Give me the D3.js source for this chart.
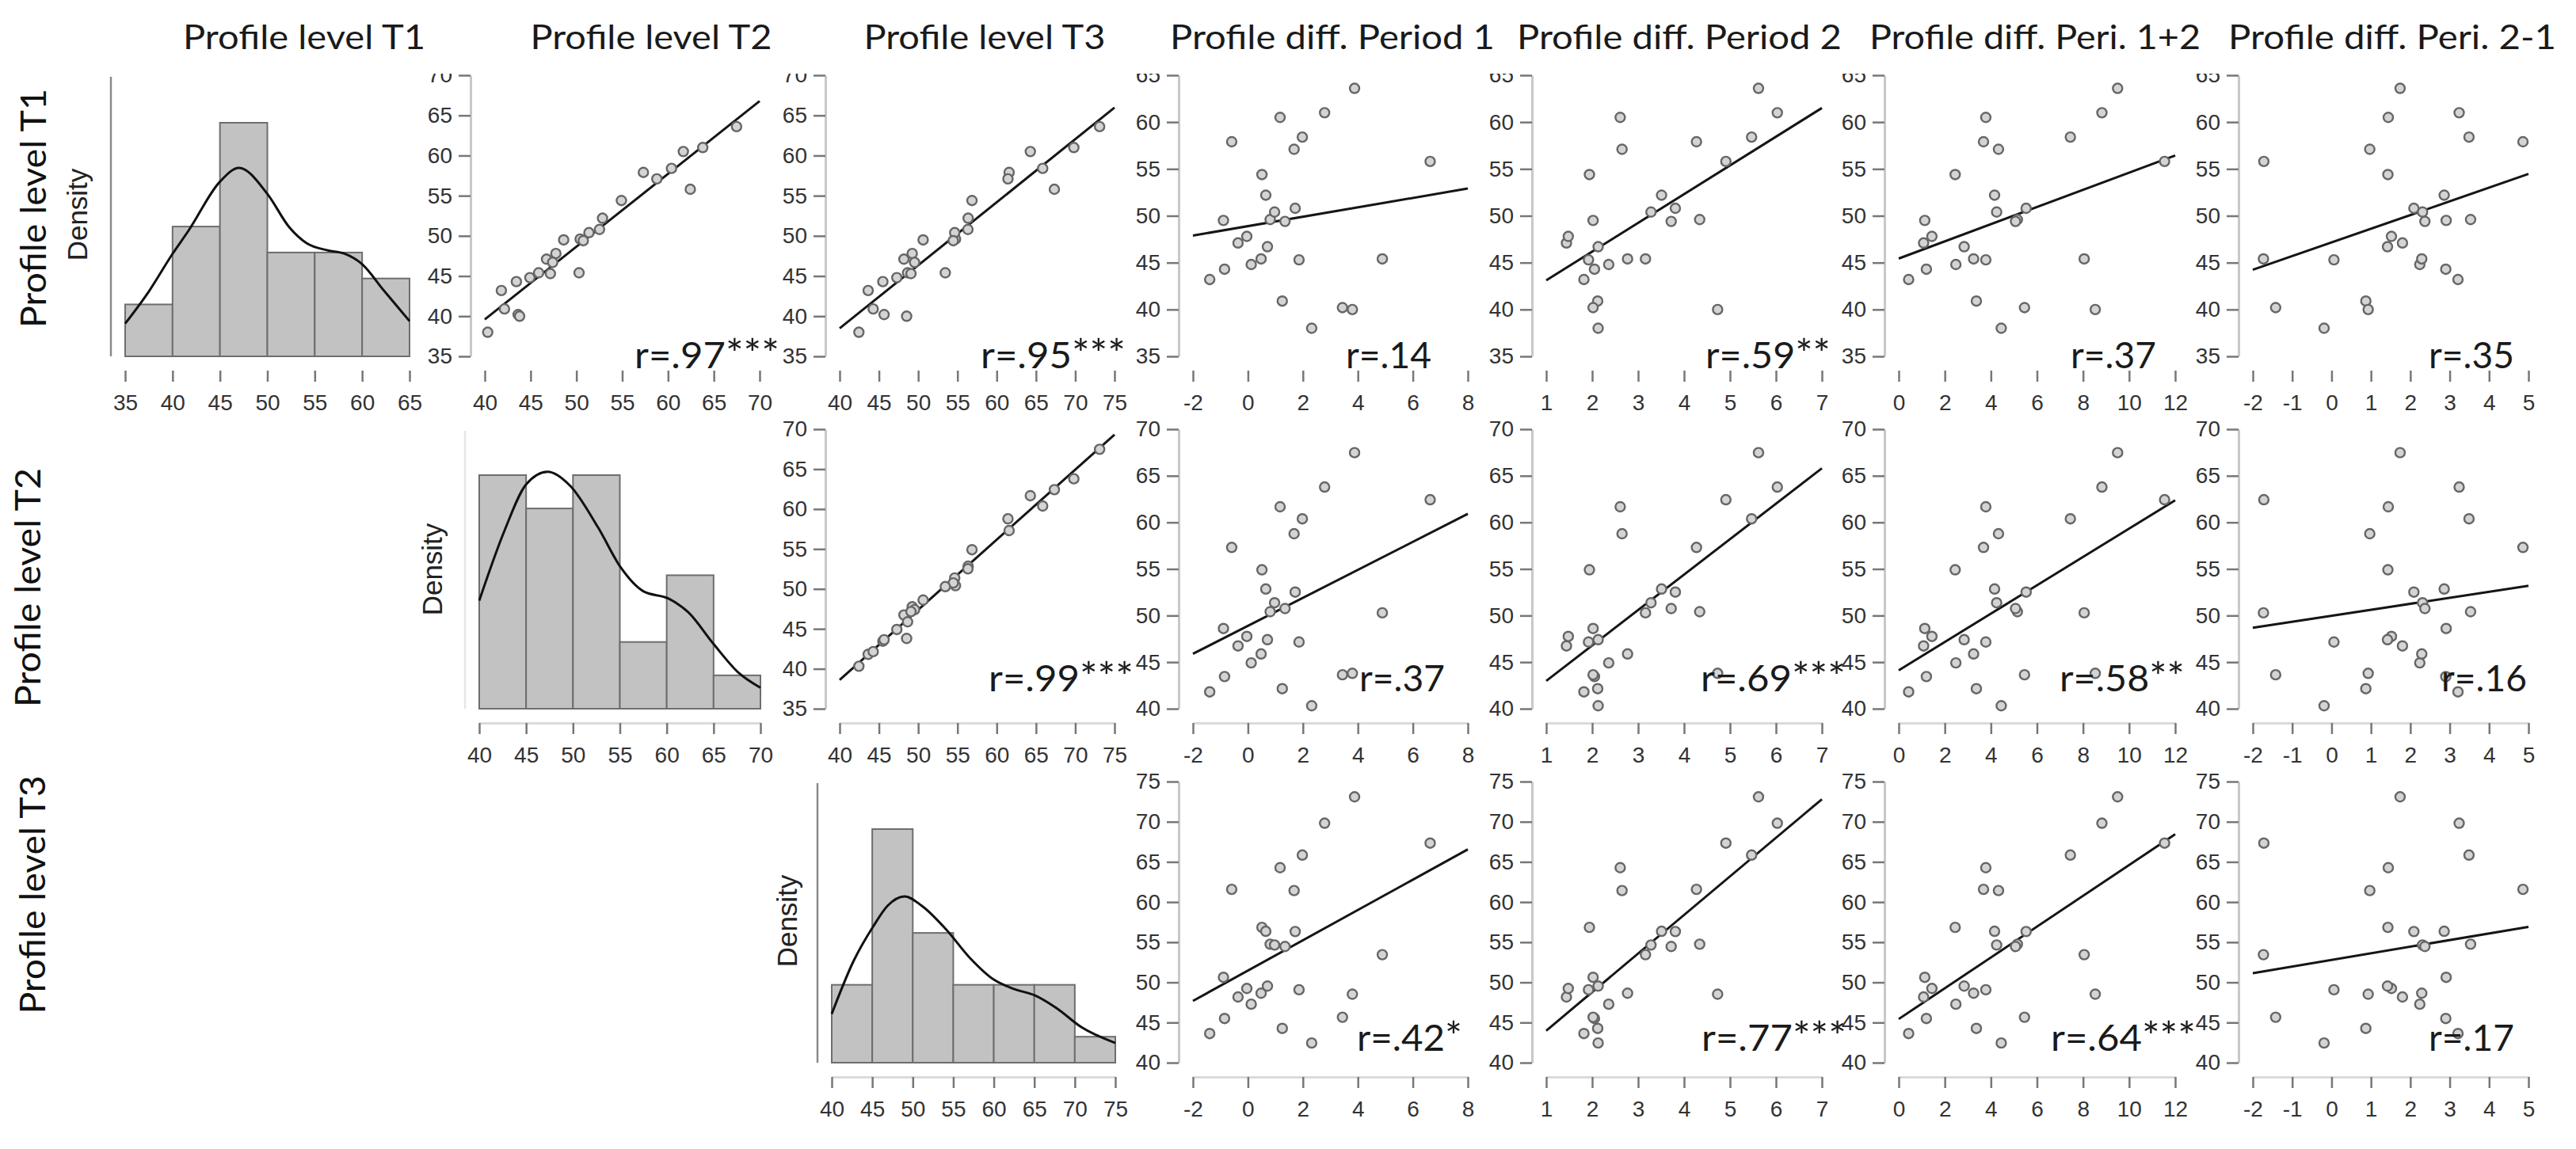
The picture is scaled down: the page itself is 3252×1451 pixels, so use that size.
<!DOCTYPE html>
<html>
<head>
<meta charset="utf-8">
<script src="https://cdn.jsdelivr.net/npm/d3@7"></script>
<style>
body { margin: 0; background: #fff; }
svg { display: block; }
</style>
</head>
<body>
<div id="chart"></div>
<script>
/*
    DATA  (27 subjects)
*/
let t1  = [43.2, 44.3, 49.5, 57.9, 47.1, 47.8, 44.8, 45.4, 54.4, 52.2, 46.7, 49.6, 50.4, 60.5, 40.9, 49.4, 50.8, 57.1, 58.4, 45.3, 38.0, 61.0, 40.2, 40.0, 63.6, 45.4, 55.8];
let t2  = [41.81, 43.45, 48.61, 57.31, 46.74, 47.76, 44.92, 45.88, 54.91, 52.85, 47.41, 50.41, 51.37, 61.67, 42.15, 50.75, 52.52, 58.78, 60.38, 47.16, 40.32, 63.79, 43.64, 43.80, 67.48, 50.29, 62.43];
let t3  = [43.63, 45.50, 50.63, 61.58, 48.18, 49.24, 47.28, 48.65, 56.85, 56.36, 49.54, 54.75, 54.65, 64.28, 44.27, 54.47, 56.33, 61.43, 65.85, 49.08, 42.45, 69.82, 45.66, 48.53, 73.10, 53.45, 67.34];
let d1  = [-1.39, -0.85, -0.89, -0.59, -0.36, -0.04, 0.12, 0.48, 0.51, 0.65, 0.71, 0.81, 0.97, 1.17, 1.25, 1.35, 1.72, 1.68, 1.98, 1.86, 2.32, 2.79, 3.44, 3.80, 3.88, 4.89, 6.63];
let d2  = [1.82, 2.05, 2.02, 4.27, 1.44, 1.48, 2.36, 2.77, 1.94, 3.51, 2.13, 4.34, 3.28, 2.61, 2.12, 3.72, 3.81, 2.65, 5.47, 1.92, 2.13, 6.03, 2.02, 4.73, 5.62, 3.16, 4.91];
let d12 = [0.43, 1.20, 1.13, 3.68, 1.08, 1.44, 2.48, 3.25, 2.45, 4.16, 2.84, 5.15, 4.25, 3.78, 3.37, 5.07, 5.53, 4.33, 7.45, 3.78, 4.45, 8.82, 5.46, 8.53, 9.50, 8.05, 11.54];
let d21 = [3.21, 2.90, 2.91, 4.86, 1.80, 1.52, 2.24, 2.29, 1.43, 2.86, 1.42, 3.53, 2.31, 1.44, 0.87, 2.37, 2.09, 0.97, 3.49, 0.06, -0.19, 3.24, -1.42, 0.93, 1.74, -1.73, -1.72];

let colTitles = ["Profile level T1", "Profile level T2", "Profile level T3", "Profile diff. Period 1", "Profile diff. Period 2", "Profile diff. Peri. 1+2", "Profile diff. Peri. 2-1"];
let rowTitles = ["Profile level T1", "Profile level T2", "Profile level T3"];

// histogram bins (edges) and counts
let histEdgesT1 = [35, 40, 45, 50, 55, 60, 65];
let histCountsT1 = [2, 5, 9, 4, 4, 3];
let histEdgesT2 = [40, 45, 50, 55, 60, 65, 70];
let histCountsT2 = [7, 6, 7, 2, 4, 1];
let histEdgesT3 = [40, 45, 50, 55, 60, 65, 70, 75];
let histCountsT3 = [3, 9, 5, 3, 3, 3, 1];

// density curves (in count units)
let densXT1 = [35, 37.5, 40, 41.7, 45, 47, 50, 52.3, 54.1, 56.4, 58.1, 60, 62.3, 65];
let densYT1 = [1.26, 2.5, 3.95, 4.85, 6.73, 7.26, 6.26, 4.98, 4.37, 4.08, 3.96, 3.55, 2.53, 1.36];
let densXT2 = [40, 42.7, 45, 47.3, 49.7, 52.7, 55.1, 57.5, 60.2, 62.3, 65, 67.7, 70];
let densYT2 = [3.24, 5.34, 6.72, 7.10, 6.68, 5.42, 4.23, 3.52, 3.30, 2.89, 1.94, 1.07, 0.63];
let densXT3 = [40, 42.7, 45.1, 46.9, 49, 51.1, 54.1, 57.1, 60, 62.4, 65.1, 67.8, 70.8, 75];
let densYT3 = [1.88, 3.92, 5.24, 6.05, 6.41, 6.05, 5.14, 4.02, 3.2, 2.85, 2.59, 2.09, 1.37, 0.76];

// tick labels
let ticksT1 = [35, 40, 45, 50, 55, 60, 65];
let ticksT2 = [40, 45, 50, 55, 60, 65, 70];
let ticksT3 = [40, 45, 50, 55, 60, 65, 70, 75];
let ticksD1 = [-2, 0, 2, 4, 6, 8];
let ticksD2 = [1, 2, 3, 4, 5, 6, 7];
let ticksD12 = [0, 2, 4, 6, 8, 10, 12];
let ticksD21 = [-2, -1, 0, 1, 2, 3, 4, 5];
let yTicksLevelRow1 = [35, 40, 45, 50, 55, 60, 65, 70];
let yTicksDiffRow1 = [35, 40, 45, 50, 55, 60, 65];
let yTicksLevelRow2 = [35, 40, 45, 50, 55, 60, 65, 70];
let yTicksDiffRow2 = [40, 45, 50, 55, 60, 65, 70];
let yTicksDiffRow3 = [40, 45, 50, 55, 60, 65, 70, 75];

// correlation labels, [row][col]
let rLabels = [
    [null, "r=.97***", "r=.95***", "r=.14", "r=.59**", "r=.37", "r=.35"],
    [null, null, "r=.99***", "r=.37", "r=.69***", "r=.58**", "r=.16"],
    [null, null, null, "r=.42*", "r=.77***", "r=.64***", "r=.17"]
];

/*
    LAYOUT
*/
let SIZE = { width: 3252, height: 1451 };
let COL_X = [[158, 517], [612, 959], [1060, 1407], [1506, 1853], [1952, 2300], [2397, 2746], [2844, 3192]];
let HIST_X = [[158, 517], [605, 960], [1050, 1408]];
let ROWS = [{ top: 95, bot: 450 }, { top: 542, bot: 895 }, { top: 987, bot: 1342 }];
let HIST_H = 295;
let AXIS_GAP = 18;
let TITLE_POS = [[384, 306], [822, 305], [1243, 305], [1682, 410], [2120, 410], [2569, 418], [3020, 414]];
let ROW_LABEL_POS = [[58, 263, 302], [51, 742, 302], [57, 1130, 301]];
let DENSITY_LABEL_POS = [[110, 271], [558, 719], [1006, 1163]];
let R_LABEL_RIGHT = [
    [0, 984, 1421, 1807, 2311, 2722, 3174],
    [0, 0, 1431, 1824, 2330, 2758, 3190],
    [0, 0, 0, 1846, 2331, 2772, 3174]
];
let R_LABEL_BASE = [465, 873, 1327];

let TICK_FONT = "'Liberation Sans', Arial, sans-serif";
let TEXT_FONT = "Lato, 'Open Sans', sans-serif";

let values = { t1: t1, t2: t2, t3: t3, d1: d1, d2: d2, d12: d12, d21: d21 };
let rowVars = ["t1", "t2", "t3"];
let colVars = ["t1", "t2", "t3", "d1", "d2", "d12", "d21"];
let xTicks = { t1: ticksT1, t2: ticksT2, t3: ticksT3, d1: ticksD1, d2: ticksD2, d12: ticksD12, d21: ticksD21 };
let hists = [
    { edges: histEdgesT1, counts: histCountsT1, dx: densXT1, dy: densYT1 },
    { edges: histEdgesT2, counts: histCountsT2, dx: densXT2, dy: densYT2 },
    { edges: histEdgesT3, counts: histCountsT3, dx: densXT3, dy: densYT3 }
];

function yTicksFor(r, c) {
    if (r === 0) return c <= 2 ? yTicksLevelRow1 : yTicksDiffRow1;
    if (r === 1) return c === 2 ? yTicksLevelRow2 : yTicksDiffRow2;
    return yTicksDiffRow3;
}

/*
    DRAW
*/
var svg = d3.select("#chart")
    .append("svg")
    .attr("width", SIZE.width)
    .attr("height", SIZE.height)
    .style("background", "#fff");

// top of the first row is cut, like in the source picture
svg.append("clipPath")
    .attr("id", "row1clip")
    .append("rect")
    .attr("x", -SIZE.width).attr("y", 93)
    .attr("width", SIZE.width * 2).attr("height", SIZE.height);

function styleAxis(a, domainColor) {
    a.select(".domain").attr("stroke", domainColor).attr("stroke-width", 3);
    a.selectAll(".tick line").attr("stroke", "#777").attr("stroke-width", 2.5);
    a.selectAll(".tick text")
        .attr("fill", "#333")
        .style("font-family", TICK_FONT)
        .style("font-size", "28px");
}

function drawXAxis(g, x, ticks, r) {
    var xa = g.append("g")
        .attr("transform", `translate(0, ${ROWS[r].bot + AXIS_GAP})`)
        .call(d3.axisBottom(x).tickValues(ticks).tickFormat(d => String(d))
            .tickSize(14).tickSizeOuter(0).tickPadding(16));
    styleAxis(xa, r === 0 ? "none" : "#d8dcdc");
}

function drawHist(r) {
    var h = hists[r];
    var g = svg.append("g");
    var x = d3.scaleLinear([h.edges[0], h.edges[h.edges.length - 1]], HIST_X[r]);
    var y = d3.scaleLinear([0, d3.max(h.counts)], [ROWS[r].bot, ROWS[r].bot - HIST_H]);

    g.append("line")
        .attr("x1", HIST_X[r][0] - AXIS_GAP).attr("x2", HIST_X[r][0] - AXIS_GAP)
        .attr("y1", ROWS[r].top + 2).attr("y2", ROWS[r].bot)
        .attr("stroke", r === 1 ? "#e6e6e6" : "#8a8a8a")
        .attr("stroke-width", 2.5);

    g.selectAll("rect")
        .data(h.counts)
        .join("rect")
        .attr("x", (d, i) => x(h.edges[i]))
        .attr("width", (d, i) => x(h.edges[i + 1]) - x(h.edges[i]))
        .attr("y", d => y(d))
        .attr("height", d => y(0) - y(d))
        .attr("fill", "#c2c2c2")
        .attr("stroke", "#6e6e6e")
        .attr("stroke-width", 2);

    var curve = d3.line()
        .x((d, i) => x(h.dx[i]))
        .y(d => y(d))
        .curve(d3.curveMonotoneX);
    g.append("path")
        .attr("d", curve(h.dy))
        .attr("fill", "none")
        .attr("stroke", "#111")
        .attr("stroke-width", 3);

    drawXAxis(g, x, h.edges, r);

    g.append("text")
        .attr("transform", `translate(${DENSITY_LABEL_POS[r][0]}, ${DENSITY_LABEL_POS[r][1]}) rotate(-90)`)
        .attr("text-anchor", "middle")
        .style("font-family", TICK_FONT)
        .style("font-size", "35px")
        .attr("fill", "#222")
        .text("Density");
}

function fitLine(xs, ys) {
    var mx = d3.mean(xs), my = d3.mean(ys);
    var sxy = d3.sum(xs, (v, i) => (v - mx) * (ys[i] - my));
    var sxx = d3.sum(xs, v => (v - mx) * (v - mx));
    var b = sxy / sxx;
    return { a: my - b * mx, b: b };
}

function drawScatter(r, c) {
    var xv = colVars[c], yv = rowVars[r];
    var xt = xTicks[xv], yt = yTicksFor(r, c);
    var x = d3.scaleLinear([d3.min(xt), d3.max(xt)], COL_X[c]);
    var y = d3.scaleLinear([d3.min(yt), d3.max(yt)], [ROWS[r].bot, ROWS[r].top]);
    var g = svg.append("g");

    var ya = g.append("g")
        .attr("transform", `translate(${COL_X[c][0] - AXIS_GAP}, 0)`)
        .call(d3.axisLeft(y).tickValues(yt).tickFormat(d => String(d))
            .tickSize(15).tickSizeOuter(0).tickPadding(8));
    styleAxis(ya, "#c8c8c8");
    if (r === 0) ya.attr("clip-path", "url(#row1clip)");

    drawXAxis(g, x, xt, r);

    var xs = values[xv], ys = values[yv];
    var fit = fitLine(xs, ys);
    var ends = d3.extent(xt);
    g.append("path")
        .attr("d", d3.line()(ends.map(v => [x(v), y(fit.a + fit.b * v)])))
        .attr("stroke", "#151515")
        .attr("stroke-width", 3);

    g.selectAll("circle")
        .data(xs)
        .join("circle")
        .attr("cx", d => x(d))
        .attr("cy", (d, i) => y(ys[i]))
        .attr("r", 6)
        .attr("fill", "#d4d4d4")
        .attr("stroke", "#666")
        .attr("stroke-width", 2.4);

    // r value, with the stars set a bit larger as in the source
    var label = rLabels[r][c];
    var base = label.replace(/\*/g, "");
    var stars = label.length - base.length;
    var txt = g.append("text")
        .attr("x", R_LABEL_RIGHT[r][c])
        .attr("y", R_LABEL_BASE[r])
        .attr("text-anchor", "end")
        .attr("textLength", 108 + 25 * stars)
        .attr("lengthAdjust", "spacingAndGlyphs")
        .style("font-family", TEXT_FONT)
        .style("font-size", "46px")
        .attr("fill", "#1a1a1a");
    txt.append("tspan").text(base);
    if (stars > 0) {
        txt.append("tspan")
            .style("font-size", "50px")
            .text("*".repeat(stars));
    }
}

rowVars.forEach((rv, r) => {
    colVars.forEach((cv, c) => {
        if (c < r) return;
        if (c === r) drawHist(r);
        else drawScatter(r, c);
    });
});

// column titles
svg.selectAll(".colTitle")
    .data(colTitles)
    .join("text")
    .attr("class", "colTitle")
    .attr("x", (d, i) => TITLE_POS[i][0])
    .attr("y", 62)
    .attr("text-anchor", "middle")
    .attr("textLength", (d, i) => TITLE_POS[i][1])
    .attr("lengthAdjust", "spacingAndGlyphs")
    .style("font-family", TEXT_FONT)
    .style("font-size", "42px")
    .attr("fill", "#1a1a1a")
    .text(d => d);

// row titles
svg.selectAll(".rowTitle")
    .data(rowTitles)
    .join("text")
    .attr("class", "rowTitle")
    .attr("transform", (d, i) => `translate(${ROW_LABEL_POS[i][0]}, ${ROW_LABEL_POS[i][1]}) rotate(-90)`)
    .attr("text-anchor", "middle")
    .attr("textLength", (d, i) => ROW_LABEL_POS[i][2])
    .attr("lengthAdjust", "spacingAndGlyphs")
    .style("font-family", TEXT_FONT)
    .style("font-size", "45px")
    .attr("fill", "#111")
    .text(d => d);
</script>
</body>
</html>
